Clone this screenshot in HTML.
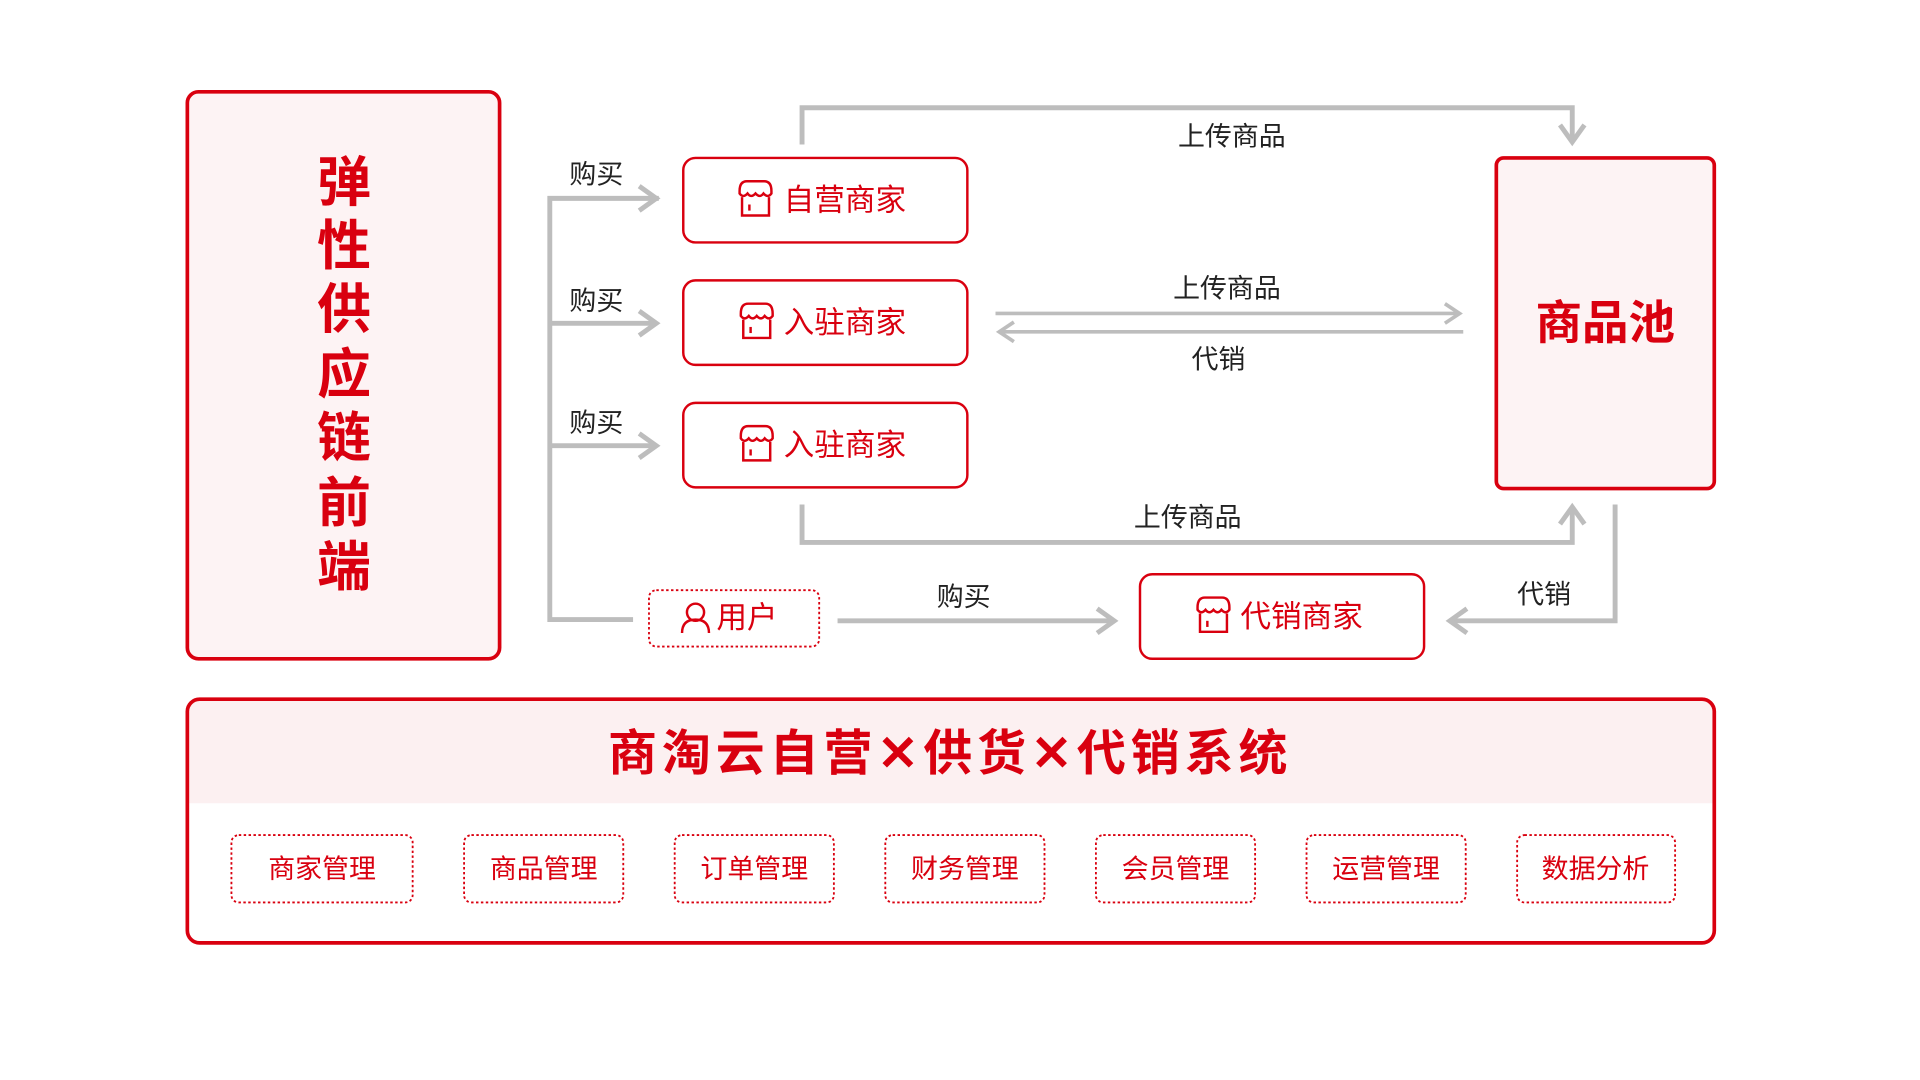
<!DOCTYPE html>
<html><head><meta charset="utf-8"><style>
html,body{margin:0;padding:0;background:#fff;width:1920px;height:1080px;overflow:hidden}
svg{display:block}
text{font-family:"Liberation Sans","Noto Sans CJK SC",sans-serif}
</style></head><body>
<svg width="1920" height="1080" viewBox="0 0 1568 882" preserveAspectRatio="none" xmlns="http://www.w3.org/2000/svg">
<defs>
<g id="shop">
<path d="M2 10 Q2 2 8 2 L22 2 Q28 2 28 10 L28 12 Q25 16 21.5 12 Q18.5 16 15 12 Q11.5 16 8.5 12 Q5 16 2 12 Z" fill="none" stroke="#d9000f" stroke-width="2"/>
<path d="M4 15 L4 30 L26 30 L26 15" fill="none" stroke="#d9000f" stroke-width="2"/>
<line x1="10" y1="21" x2="10" y2="26" stroke="#d9000f" stroke-width="2"/>
</g>
</defs>
<g fill="none" stroke="#bdbdbd" stroke-width="4">
<polyline points="538,162 449,162 449,506 517,506"/>
<line x1="449" y1="264" x2="536" y2="264"/>
<line x1="449" y1="364" x2="536" y2="364"/>
<polyline points="522,152 536,162 522,172"/>
<polyline points="522,254 536,264 522,274"/>
<polyline points="522,354 536,364 522,374"/>
<line x1="684" y1="507" x2="910" y2="507"/>
<polyline points="896,497 910,507 896,517"/>
<polyline points="655,118 655,88 1284,88 1284,116"/>
<polyline points="1274,102 1284,116 1294,102"/>
<line x1="813" y1="256" x2="1192" y2="256" stroke-width="3"/>
<polyline points="1180,248 1192,256 1180,264" stroke-width="3"/>
<line x1="816" y1="271" x2="1195" y2="271" stroke-width="3"/>
<polyline points="828,263 816,271 828,279" stroke-width="3"/>
<polyline points="655,412 655,443 1284,443 1284,414"/>
<polyline points="1274,428 1284,414 1294,428"/>
<polyline points="1319,412 1319,507 1184,507"/>
<polyline points="1198,497 1184,507 1198,517"/>
</g>
<rect x="153" y="75" width="255" height="463" rx="9" fill="#fdf3f4" stroke="#d9000f" stroke-width="3"/>
<g font-size="44" font-weight="bold" fill="#d9000f" text-anchor="middle">
<text x="281" y="164">弹</text><text x="281" y="216">性</text><text x="281" y="268">供</text><text x="281" y="321">应</text><text x="281" y="373">链</text><text x="281" y="426">前</text><text x="281" y="478">端</text>
</g>
<g fill="#fff" stroke="#d9000f" stroke-width="2">
<rect x="558" y="129" width="232" height="69" rx="10"/>
<rect x="558" y="229" width="232" height="69" rx="10"/>
<rect x="558" y="329" width="232" height="69" rx="10"/>
<rect x="931" y="469" width="232" height="69" rx="10"/>
</g>
<rect x="530" y="482" width="139" height="46" rx="6" fill="#fff" stroke="#d9000f" stroke-width="1.5" stroke-dasharray="2,2"/>
<use href="#shop" x="602" y="146"/>
<use href="#shop" x="603" y="246"/>
<use href="#shop" x="603" y="346"/>
<use href="#shop" x="976" y="486"/>
<g font-size="25" fill="#d9000f">
<text x="640" y="172">自营商家</text>
<text x="640" y="272">入驻商家</text>
<text x="640" y="372">入驻商家</text>
<text x="1013" y="512">代销商家</text>
<text x="585" y="513">用户</text>
</g>
<g fill="none" stroke="#d9000f" stroke-width="2"><circle cx="568" cy="500" r="7"/><path d="M557 517 Q557 506 568 506 Q579 506 579 517"/></g>
<rect x="1222" y="129" width="178" height="270" rx="6" fill="#fdf3f4" stroke="#d9000f" stroke-width="3"/>
<text x="1311" y="277" font-size="38" font-weight="bold" fill="#d9000f" text-anchor="middle">商品池</text>
<g font-size="22" fill="#222" text-anchor="middle">
<text x="487" y="150">购买</text><text x="487" y="253">购买</text><text x="487" y="353">购买</text>
<text x="787" y="495">购买</text>
<text x="1006" y="119">上传商品</text>
<text x="1002" y="243">上传商品</text>
<text x="995" y="301">代销</text>
<text x="970" y="430">上传商品</text>
<text x="1261" y="493">代销</text>
</g>
<path d="M163 571 H1390 Q1400 571 1400 581 V656 H153 V581 Q153 571 163 571Z" fill="#fcf0f1"/>
<rect x="153" y="571" width="1247" height="199" rx="10" fill="none" stroke="#d9000f" stroke-width="3"/>
<text x="776" y="629" font-size="40" font-weight="bold" fill="#d9000f" text-anchor="middle" letter-spacing="4">商淘云自营✕供货✕代销系统</text>
<g fill="#fff" stroke="#d9000f" stroke-width="1.5" stroke-dasharray="2,2">
<rect x="189" y="682" width="148" height="55" rx="6"/>
<rect x="379" y="682" width="130" height="55" rx="6"/>
<rect x="551" y="682" width="130" height="55" rx="6"/>
<rect x="723" y="682" width="130" height="55" rx="6"/>
<rect x="895" y="682" width="130" height="55" rx="6"/>
<rect x="1067" y="682" width="130" height="55" rx="6"/>
<rect x="1239" y="682" width="129" height="55" rx="6"/>
</g>
<g font-size="22" fill="#d9000f" text-anchor="middle">
<text x="263" y="717">商家管理</text>
<text x="444" y="717">商品管理</text>
<text x="616" y="717">订单管理</text>
<text x="788" y="717">财务管理</text>
<text x="960" y="717">会员管理</text>
<text x="1132" y="717">运营管理</text>
<text x="1303" y="717">数据分析</text>
</g>
</svg>
</body></html>
